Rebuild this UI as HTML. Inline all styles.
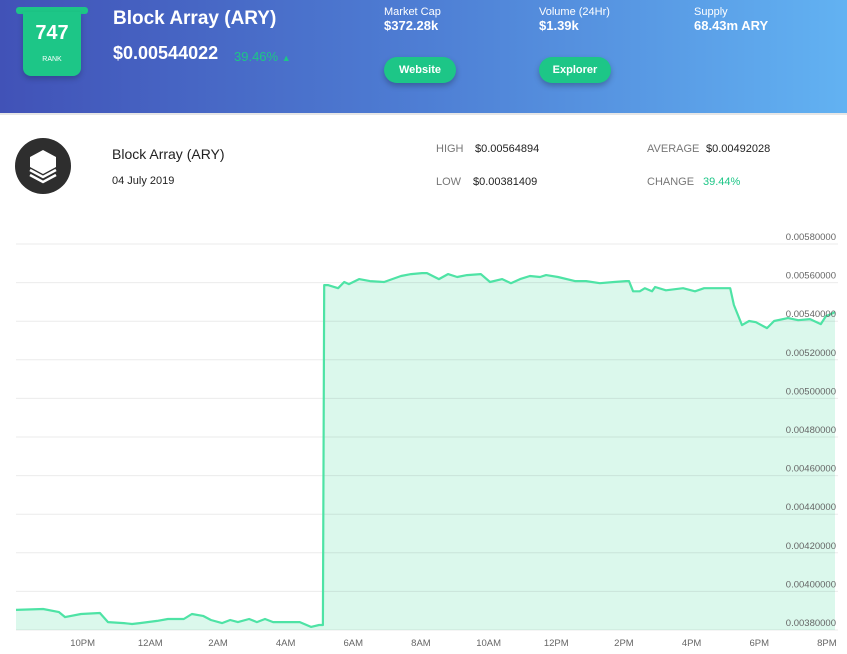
<!DOCTYPE html>
<html><head><meta charset="utf-8">
<style>
*{margin:0;padding:0;box-sizing:border-box}
body{width:847px;height:654px;background:#fff;font-family:"Liberation Sans",sans-serif;position:relative;overflow:hidden}
.hdr{position:absolute;left:0;top:0;width:847px;height:113px;background:linear-gradient(90deg,#4152b7 0%,#4e7ed4 50%,#62b2f2 100%);color:#fff}
.sep{position:absolute;left:0;top:113px;width:847px;height:2px;background:#e6e6e6}
.abs{position:absolute;white-space:nowrap}
.btn{position:absolute;background:#1dc687;color:#fff;border-radius:14px;font-size:11px;font-weight:bold;text-align:center;line-height:26px;height:26px;width:72px;box-shadow:0 3px 6px rgba(0,0,0,.25)}
.lbl{color:#777;font-size:11px}
.val{color:#222;font-size:11px}
</style></head><body>
<div class="hdr">
  <div class="abs" style="left:16px;top:7px;width:72px;height:7px;background:#1dc687;border-radius:3px"></div>
  <div class="abs" style="left:23px;top:12px;width:58px;height:64px;background:#1dc687;border-radius:0 0 8px 8px;box-shadow:0 3px 6px rgba(0,0,0,.2)">
    <div class="abs" style="left:0;width:58px;top:10px;text-align:center;font-size:20px;font-weight:bold">747</div>
    <div class="abs" style="left:0;width:58px;top:44px;text-align:center;font-size:7px">RANK</div>
  </div>
  <div class="abs" style="left:113px;top:8px;font-size:19px;font-weight:bold">Block Array (ARY)</div>
  <div class="abs" style="left:113px;top:43px;font-size:18px;font-weight:bold">$0.00544022</div>
  <div class="abs" style="left:234px;top:49px;font-size:13px;color:#1dc687">39.46% <span style="font-size:9px">▲</span></div>
  <div class="abs" style="left:384px;top:6px;font-size:11px">Market Cap</div>
  <div class="abs" style="left:384px;top:18px;font-size:13px;font-weight:bold">$372.28k</div>
  <div class="abs" style="left:539px;top:6px;font-size:11px">Volume (24Hr)</div>
  <div class="abs" style="left:539px;top:18px;font-size:13px;font-weight:bold">$1.39k</div>
  <div class="abs" style="left:694px;top:6px;font-size:11px">Supply</div>
  <div class="abs" style="left:694px;top:18px;font-size:13px;font-weight:bold">68.43m ARY</div>
  <div class="btn" style="left:384px;top:57px">Website</div>
  <div class="btn" style="left:539px;top:57px">Explorer</div>
</div>
<div class="sep"></div>

<svg class="abs" style="left:14px;top:137px" width="58" height="58" viewBox="0 0 58 58">
  <circle cx="29" cy="29" r="28" fill="#2e2e2e"/>
  <polygon points="29,13 42,20 42,30 29,37 16,30 16,20" fill="#fff"/>
  <polyline points="16,33 29,40 42,33" fill="none" stroke="#fff" stroke-width="2.5"/>
  <polyline points="16,38 29,45 42,38" fill="none" stroke="#fff" stroke-width="2.5"/>
</svg>
<div class="abs" style="left:112px;top:146px;font-size:14px;color:#222">Block Array (ARY)</div>
<div class="abs" style="left:112px;top:175px;font-size:11px;color:#222">04 July 2019</div>
<div class="abs lbl" style="left:436px;top:143px">HIGH</div>
<div class="abs val" style="left:475px;top:143px">$0.00564894</div>
<div class="abs lbl" style="left:436px;top:176px">LOW</div>
<div class="abs val" style="left:473px;top:176px">$0.00381409</div>
<div class="abs lbl" style="left:647px;top:143px">AVERAGE</div>
<div class="abs val" style="left:706px;top:143px">$0.00492028</div>
<div class="abs lbl" style="left:647px;top:176px">CHANGE</div>
<div class="abs" style="left:703px;top:176px;font-size:11px;color:#1dc687">39.44%</div>

<svg id="chart" class="abs" style="left:0;top:0" width="847" height="654"></svg>
<script>
const hours=[0.03,0.83,1.30,1.48,1.95,2.51,2.75,3.22,3.46,3.69,4.20,4.52,4.99,5.23,5.56,5.79,6.12,6.36,6.59,6.92,7.15,7.39,7.63,8.01,8.42,8.75,8.99,9.10,9.14,9.25,9.55,9.73,9.87,10.17,10.49,10.91,11.41,11.71,12.03,12.18,12.53,12.80,13.07,13.36,13.77,14.04,14.40,14.66,14.93,15.22,15.52,15.70,16.05,16.55,16.88,17.29,17.71,18.06,18.15,18.27,18.47,18.62,18.83,18.92,19.24,19.75,20.10,20.37,20.93,21.14,21.25,21.49,21.70,21.90,22.23,22.44,22.85,23.15,23.50,23.82,23.97,24.24];
const prices=[0.003904,0.003909,0.003893,0.003867,0.003883,0.003888,0.003841,0.003836,0.003831,0.003836,0.003847,0.003857,0.003857,0.003883,0.003873,0.003852,0.003836,0.003852,0.003841,0.003857,0.003841,0.003857,0.003841,0.003841,0.003841,0.003816,0.003826,0.003826,0.005587,0.005587,0.005571,0.005603,0.005592,0.005618,0.005608,0.005603,0.005634,0.005644,0.005649,0.005649,0.005618,0.005644,0.005629,0.005639,0.005644,0.005603,0.005618,0.005597,0.005618,0.005634,0.005629,0.005639,0.005629,0.005608,0.005608,0.005597,0.005603,0.005608,0.005608,0.005555,0.005555,0.005571,0.005555,0.005577,0.005560,0.005571,0.005555,0.005571,0.005571,0.005571,0.005484,0.005380,0.005401,0.005395,0.005364,0.005401,0.005416,0.005405,0.005411,0.005385,0.005426,0.005447];
const yTicks=[0.0038,0.004,0.0042,0.0044,0.0046,0.0048,0.005,0.0052,0.0054,0.0056,0.0058];
const xTickLabels=["10PM","12AM","2AM","4AM","6AM","8AM","10AM","12PM","2PM","4PM","6PM","8PM"];
const xTickHours=[2,4,6,8,10,12,14,16,18,20,22,24];
const svg=document.getElementById('chart');const NS='http://www.w3.org/2000/svg';
const X=h=>15+h*33.83;
const Y=p=>630-(p-0.0038)/0.0002*38.6;
function mk(t,a){const e=document.createElementNS(NS,t);for(const k in a)e.setAttribute(k,a[k]);svg.appendChild(e);return e;}
let d='';hours.forEach((h,i)=>{d+=(i?'L':'M')+X(h).toFixed(1)+','+Y(prices[i]).toFixed(1);});
const area=mk('path',{d:d+'L'+X(hours[hours.length-1]).toFixed(1)+','+Y(0.0038)+'L'+X(hours[0]).toFixed(1)+','+Y(0.0038)+'Z',fill:'#dbf8ec'});


yTicks.forEach((v,i)=>{
  const g=mk('line',{x1:16,x2:838,y1:Y(v),y2:Y(v),stroke:'#000','stroke-opacity':0.08,'stroke-width':1});
  
  
});
const line=mk('path',{d:d,fill:'none',stroke:'#4ee3a5','stroke-width':2.2,'stroke-linejoin':'round'});


yTicks.forEach((v,i)=>{
  const t=mk('text',{x:836,y:Y(v)-4,'text-anchor':'end','font-size':'9.5',fill:'#666','font-family':'Liberation Sans, sans-serif'});
  t.textContent=v.toFixed(8);
  
  
});
xTickLabels.forEach((l,i)=>{
  const t=mk('text',{x:X(xTickHours[i]),y:646,'text-anchor':'middle','font-size':'9.5',fill:'#666','font-family':'Liberation Sans, sans-serif'});
  t.textContent=l;
  
  
});
</script>
</body></html>
